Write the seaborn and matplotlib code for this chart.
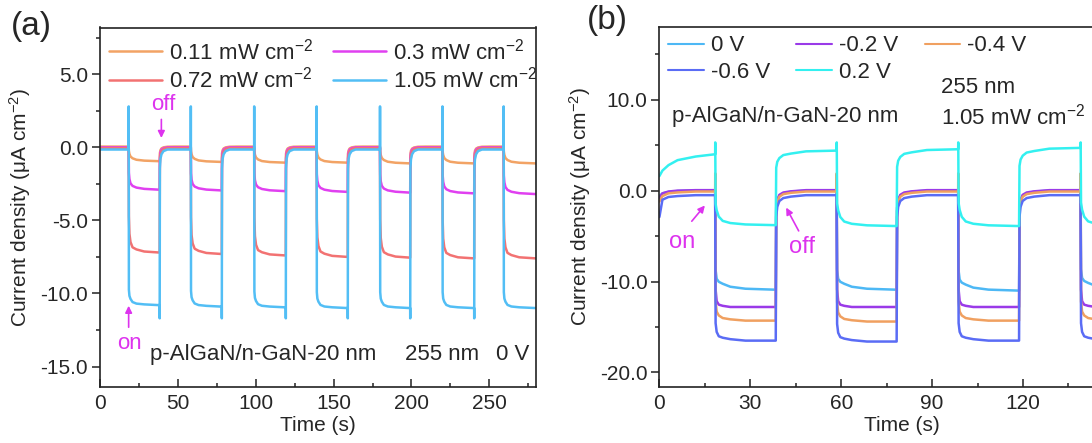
import matplotlib
matplotlib.use("Agg")
import matplotlib.pyplot as plt
from matplotlib.lines import Line2D
from matplotlib.ticker import MultipleLocator, FormatStrFormatter
import pandas as pd
import seaborn as sns

# ---------------- panel (a): 0 V, different 255 nm intensities ----------------
on_times_a = [18.4, 58.3, 99.0, 139.1, 179.8, 219.9, 259.2]
off_times_a = [38.3, 78.2, 119.3, 159.1, 199.2, 240.3]
end_a = 280.0
labels_a = ["0.11 mW cm$^{-2}$", "0.3 mW cm$^{-2}$", "0.72 mW cm$^{-2}$", "1.05 mW cm$^{-2}$"]
colors_a = ["#F2A365", "#E040F0", "#F27272", "#52BEF5"]
dark_a = [0.05, 0.0, -0.05, -0.15]
# current density at the end of each light-on period (uA cm-2)
on_0p11 = [-0.95, -1.0, -1.05, -1.05, -1.1, -1.1, -1.1]
on_0p3 = [-2.9, -2.95, -3.0, -3.05, -3.1, -3.15, -3.2]
on_0p72 = [-7.2, -7.3, -7.4, -7.5, -7.55, -7.6, -7.6]
on_1p05 = [-10.8, -10.9, -10.95, -11.0, -11.0, -11.0, -11.0]
# fraction of the step reached 0.15, 0.5, 1.2, 2.5, 5, 10 s after light on / off
rise_a = [[0.3, 0.5, 0.68, 0.8, 0.9, 0.96],
          [0.6, 0.75, 0.85, 0.91, 0.95, 0.98],
          [0.65, 0.82, 0.9, 0.95, 0.97, 0.99],
          [0.9, 0.94, 0.96, 0.98, 0.99, 0.995]]
fall_a = [[0.55, 0.75, 0.88, 0.95, 0.99, 1.0],
          [0.75, 0.88, 0.95, 0.98, 1.0, 1.0],
          [0.85, 0.93, 0.97, 0.99, 1.0, 1.0],
          [0.88, 0.94, 0.97, 0.99, 1.0, 1.0]]
spike_on_a = [None, None, None, 2.8]
spike_off_a = [None, None, None, -11.7]

# ---------------- panel (b): 1.05 mW cm-2, different bias ----------------
on_times_b = [18.4, 58.5, 98.6, 139.0]
off_times_b = [38.4, 78.3, 118.7, 158.7]
end_b = 160.0
labels_b = ["0 V", "-0.2 V", "-0.4 V", "-0.6 V", "0.2 V"]
colors_b = ["#4DB8F5", "#9A3AE8", "#F0A060", "#5A6CF5", "#33F0F0"]
# initial dark part (t = 0, 1, 3, 6, 12 s, then first light-on)
start_t_b = [0.0, 1.0, 3.0, 6.0, 12.0]
start_0v = [-0.6, -0.3, -0.15, -0.05, 0.0]
start_m02 = [-0.8, -0.3, -0.1, 0.0, 0.05]
start_m04 = [-1.2, -0.6, -0.3, -0.2, -0.1]
start_m06 = [-2.9, -1.0, -0.7, -0.6, -0.5]
start_p02 = [1.6, 2.2, 2.8, 3.35, 3.75]
# dark level before each light-on period (last = after final off)
dark_0v = [0.0, 0.0, 0.0, 0.0, 0.0]
dark_m02 = [0.05, 0.05, 0.05, 0.05, 0.05]
dark_m04 = [-0.1, -0.1, -0.1, -0.1, -0.1]
dark_m06 = [-0.5, -0.5, -0.5, -0.5, -0.5]
dark_p02 = [4.0, 4.4, 4.55, 4.7, 4.8]
# current density at the end of each light-on period
on_0v = [-10.9, -10.9, -11.0, -10.8]
on_m02 = [-12.8, -12.8, -12.8, -12.8]
on_m04 = [-14.3, -14.4, -14.3, -14.3]
on_m06 = [-16.5, -16.6, -16.5, -16.5]
on_p02 = [-3.8, -3.9, -3.9, -3.9]
rise_b = [[0.8, 0.89, 0.92, 0.94, 0.97, 0.99],
          [0.85, 0.95, 0.98, 0.99, 1.0, 1.0],
          [0.85, 0.93, 0.96, 0.98, 0.99, 1.0],
          [0.88, 0.94, 0.97, 0.98, 0.99, 1.0],
          [0.7, 0.79, 0.88, 0.94, 0.97, 0.99]]
fall_b = [[0.8, 0.9, 0.95, 0.97, 0.99, 1.0],
          [0.85, 0.92, 0.96, 0.98, 0.99, 1.0],
          [0.85, 0.92, 0.96, 0.98, 0.99, 1.0],
          [0.85, 0.92, 0.96, 0.98, 0.99, 1.0],
          [0.77, 0.85, 0.9, 0.94, 0.96, 0.99]]
spike_on_b = [None, None, 1.9, None, 5.3]

steps = [0.15, 0.5, 1.2, 2.5, 5.0, 10.0]


def trace(on_t, off_t, t_end, t0, y0, dark, lvl, rise, fall, s_on=None, s_off=None):
    t, y = list(t0) + [on_t[0]], list(y0) + [dark[0]]
    for k, ton in enumerate(on_t):
        toff = off_t[k] if k < len(off_t) else t_end
        a, b = dark[k], lvl[k]
        if s_on is not None:
            t.append(ton + 0.03); y.append(s_on)
        for dt, f in zip(steps, rise):
            if ton + dt < toff:
                t.append(ton + dt); y.append(a + f * (b - a))
        t.append(toff); y.append(b)
        if k >= len(off_t):
            break
        c = dark[k + 1]
        tnext = on_t[k + 1] if k + 1 < len(on_t) else t_end
        if s_off is not None:
            t.append(toff + 0.03); y.append(s_off)
        for dt, f in zip(steps, fall):
            if toff + dt < tnext:
                t.append(toff + dt); y.append(b + f * (c - b))
        t.append(tnext); y.append(c)
    return t, y


rows = []
for i, lvl in enumerate([on_0p11, on_0p3, on_0p72, on_1p05]):
    d = [dark_a[i]] * len(on_times_a)
    t, y = trace(on_times_a, off_times_a, end_a, [0.0], [dark_a[i]], d, lvl,
                 rise_a[i], fall_a[i], spike_on_a[i], spike_off_a[i])
    rows += [(tt, yy, labels_a[i]) for tt, yy in zip(t, y)]
df_a = pd.DataFrame(rows, columns=["time", "j", "series"])

rows = []
starts = [start_0v, start_m02, start_m04, start_m06, start_p02]
darks = [dark_0v, dark_m02, dark_m04, dark_m06, dark_p02]
ons = [on_0v, on_m02, on_m04, on_m06, on_p02]
for i in range(5):
    t, y = trace(on_times_b, off_times_b, end_b, start_t_b, starts[i], darks[i], ons[i],
                 rise_b[i], fall_b[i], spike_on_b[i])
    rows += [(tt, yy, labels_b[i]) for tt, yy in zip(t, y)]
df_b = pd.DataFrame(rows, columns=["time", "j", "series"])

sns.set_theme(style="ticks")
plt.rcParams["font.family"] = ["Liberation Sans", "DejaVu Sans"]
plt.rcParams["mathtext.fontset"] = "custom"
plt.rcParams["mathtext.rm"] = "Liberation Sans"
plt.rcParams["mathtext.it"] = "Liberation Sans:italic"
plt.rcParams["mathtext.sf"] = "Liberation Sans"
plt.rcParams["axes.unicode_minus"] = False

W, H = 1092, 443
fig = plt.figure(figsize=(W / 100, H / 100), dpi=100)
ax_a = fig.add_axes([100 / W, 1 - 387 / H, 436 / W, (387 - 27.5) / H])
ax_b = fig.add_axes([659.4 / W, 1 - 387 / H, 160 * 3.03 / W, (387 - 26.5) / H])

sns.lineplot(data=df_a, x="time", y="j", hue="series", hue_order=labels_a,
             palette=colors_a, estimator=None, sort=False, lw=1.8, legend=False, ax=ax_a)
sns.lineplot(data=df_b, x="time", y="j", hue="series", hue_order=labels_b,
             palette=colors_b, estimator=None, sort=False, lw=1.8, legend=False, ax=ax_b)

mag = "#DD33EE"
for ax, xmaj, xmin, ymaj, ymin, xl, yl in [
        (ax_a, 50, 25, 5, 2.5, (0, 280), (-16.4, 8.2)),
        (ax_b, 30, 15, 10, 5, (0, 160), (-21.6, 18.05))]:
    ax.set_xlim(*xl)
    ax.set_ylim(*yl)
    ax.xaxis.set_major_locator(MultipleLocator(xmaj))
    ax.xaxis.set_minor_locator(MultipleLocator(xmin))
    ax.yaxis.set_major_locator(MultipleLocator(ymaj))
    ax.yaxis.set_minor_locator(MultipleLocator(ymin))
    ax.yaxis.set_major_formatter(FormatStrFormatter("%.1f"))
    ax.tick_params(axis="x", which="both", direction="in", labelsize=15, pad=5, color="#222222")
    ax.tick_params(axis="y", which="both", direction="out", labelsize=15, pad=3, color="#222222")
    ax.tick_params(which="major", length=5.5, width=1.1)
    ax.tick_params(which="minor", length=3, width=1.1)
    for s in ax.spines.values():
        s.set_linewidth(1.2)
        s.set_color("#222222")
    ax.set_xlabel("Time (s)", fontsize=15, labelpad=2)
    ax.set_ylabel("Current density (μA cm$^{-2}$)", fontsize=15, labelpad=5)

# panel (b) is cropped at the figure edge: only label the ticks that are visible
ax_b.set_xticks([0, 30, 60, 90, 120])

# legends
hd = [Line2D([], [], color=c, lw=1.8) for c in colors_a]
order = [0, 2, 1, 3]
ax_a.legend([hd[i] for i in order], [labels_a[i] for i in order], ncol=2, loc="upper left",
            bbox_to_anchor=(0.0, 0.995), frameon=False, fontsize=16, handlelength=2.4,
            handletextpad=0.3, columnspacing=0.9, labelspacing=0.12, borderaxespad=0.2, borderpad=0.2)
hd = [Line2D([], [], color=c, lw=1.5) for c in colors_b]
order = [0, 3, 1, 4, 2]
ax_b.legend([hd[i] for i in order], [labels_b[i] for i in order], ncol=3, loc="upper left",
            bbox_to_anchor=(0.0, 1.0), frameon=False, fontsize=16, handlelength=1.6,
            handletextpad=0.3, columnspacing=1.2, labelspacing=0.25, borderaxespad=0.2, borderpad=0.2)

# annotations panel (a)
ax_a.text(32, -14.2, "p-AlGaN/n-GaN-20 nm", fontsize=16, va="center", ha="left")
ax_a.text(196, -14.2, "255 nm", fontsize=16, va="center", ha="left")
ax_a.text(254.5, -14.2, "0 V", fontsize=16, va="center", ha="left")
ax_a.annotate("", xy=(39.4, 0.45), xytext=(39.4, 2.1),
              arrowprops=dict(arrowstyle="-|>", color=mag, lw=1.2, mutation_scale=10))
ax_a.text(40.5, 2.95, "off", color=mag, fontsize=16, ha="center", va="center")
ax_a.annotate("", xy=(18.4, -10.65), xytext=(18.4, -12.5),
              arrowprops=dict(arrowstyle="-|>", color=mag, lw=1.2, mutation_scale=10))
ax_a.text(19, -13.4, "on", color=mag, fontsize=16, ha="center", va="center")

# annotations panel (b)
ax_b.text(4.2, 8.1, "p-AlGaN/n-GaN-20 nm", fontsize=16, va="center", ha="left")
ax_b.text(93, 11.3, "255 nm", fontsize=16, va="center", ha="left")
ax_b.text(93, 8.2, "1.05 mW cm$^{-2}$", fontsize=16, va="center", ha="left")
ax_b.annotate("", xy=(15.6, -1.4), xytext=(10.1, -3.6),
              arrowprops=dict(arrowstyle="-|>", color=mag, lw=1.2, mutation_scale=10))
ax_b.text(7.6, -5.6, "on", color=mag, fontsize=17, ha="center", va="center")
ax_b.annotate("", xy=(41.4, -1.6), xytext=(46.4, -4.7),
              arrowprops=dict(arrowstyle="-|>", color=mag, lw=1.2, mutation_scale=10))
ax_b.text(46.9, -6.2, "off", color=mag, fontsize=17, ha="center", va="center")

fig.text(31.5 / W, 1 - 27 / H, "(a)", fontsize=24, ha="center", va="center")
fig.text(607 / W, 1 - 20 / H, "(b)", fontsize=24, ha="center", va="center")

fig.savefig("out.png", dpi=100)
